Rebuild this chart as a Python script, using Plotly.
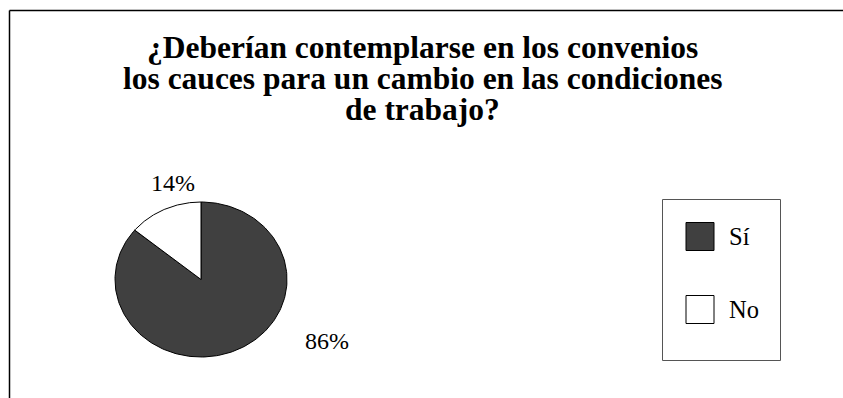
import numpy as np
import plotly.graph_objects as go

# Survey answers
categories = ["Sí", "No"]
percentages = [86, 14]
slice_colors = ["#404040", "#ffffff"]
title_lines = [
    "¿Deberían contemplarse en los convenios",
    "los cauces para un cambio en las condiciones",
    "de trabajo?",
]

W, H = 843, 398
FONT = "Liberation Serif"


def px(x):
    return x / W


def py(y):
    return 1 - y / H


fig = go.Figure()

# Pie wedges drawn clockwise from 12 o'clock on a unit-circle axis pair
total = sum(percentages)
cum = 0.0
for cat, val, col in zip(categories, percentages, slice_colors):
    f0, f1 = cum / total, (cum + val) / total
    theta = np.linspace(np.pi / 2 - 2 * np.pi * f0, np.pi / 2 - 2 * np.pi * f1, 200)
    xs = np.concatenate([[0], np.cos(theta), [0]])
    ys = np.concatenate([[0], np.sin(theta), [0]])
    fig.add_trace(go.Scatter(
        x=xs, y=ys, mode="lines", fill="toself", fillcolor=col,
        line=dict(color="#000000", width=1), name=cat,
        showlegend=False, hoverinfo="skip",
    ))
    cum += val

# Pie geometry (pixels): centre and radii, slightly squashed vertically
cx, cy, rx, ry = 201, 279.5, 86, 77.5
pad = 1.05
fig.update_xaxes(visible=False, range=[-pad, pad],
                 domain=[px(cx - rx * pad), px(cx + rx * pad)])
fig.update_yaxes(visible=False, range=[-pad, pad],
                 domain=[py(cy + ry * pad), py(cy - ry * pad)])

# Title, one annotation per line for tight line spacing
for i, line in enumerate(title_lines):
    fig.add_annotation(
        text=f"<b>{line}</b>", x=px(422), y=py(47.5 + 31 * i),
        xref="paper", yref="paper", xanchor="center", yanchor="middle",
        showarrow=False, font=dict(family=FONT, size=31.5, color="#000000"),
    )

# Percentage labels
label_pos = {"Sí": (327, 341), "No": (173, 183)}
for cat, val in zip(categories, percentages):
    lx, ly = label_pos[cat]
    fig.add_annotation(
        text=f"{val}%", x=px(lx), y=py(ly), xref="paper", yref="paper",
        xanchor="center", yanchor="middle", showarrow=False,
        font=dict(family=FONT, size=24, color="#000000"),
    )

# Chart frame (top and left edges)
fig.add_shape(type="line", xref="paper", yref="paper", x0=px(9.5), y0=py(10.5),
              x1=px(843), y1=py(10.5), line=dict(color="#000000", width=1.5))
fig.add_shape(type="line", xref="paper", yref="paper", x0=px(9.5), y0=py(10.5),
              x1=px(9.5), y1=py(398), line=dict(color="#000000", width=1.5))
# Legend box
fig.add_shape(type="rect", xref="paper", yref="paper", x0=px(662.5), y0=py(199.5),
              x1=px(780.5), y1=py(360.5), line=dict(color="#555555", width=1),
              fillcolor="rgba(0,0,0,0)")

# Legend entries
legend_y = {"Sí": 236.5, "No": 309.5}
for cat, col in zip(categories, slice_colors):
    yc = legend_y[cat]
    fig.add_shape(
        type="rect", xref="paper", yref="paper",
        x0=px(686), y0=py(yc - 14), x1=px(714), y1=py(yc + 14),
        fillcolor=col, line=dict(color="#000000", width=1),
    )
    fig.add_annotation(
        text=cat, x=px(727), y=py(yc), xref="paper", yref="paper",
        xanchor="left", yanchor="middle", showarrow=False,
        font=dict(family=FONT, size=24.5, color="#000000"),
    )

fig.update_layout(
    width=W, height=H,
    margin=dict(l=0, r=0, t=0, b=0),
    paper_bgcolor="#ffffff", plot_bgcolor="#ffffff",
    showlegend=False,
    font=dict(family=FONT),
)

fig.write_html("out.html")
